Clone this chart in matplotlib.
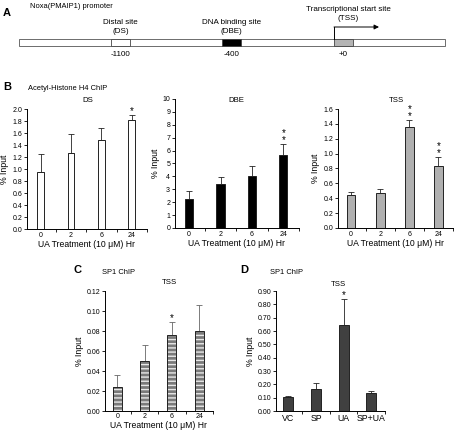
import matplotlib
matplotlib.use("Agg")
import matplotlib.pyplot as plt
from matplotlib.patches import Rectangle, FancyArrowPatch
import numpy as np

plt.rcParams['font.family'] = ['Liberation Sans', 'DejaVu Sans']

W, H = 455, 430

# ---------------- data ----------------
time_labels = ["0", "2", "6", "24"]
ds_vals = [0.95, 1.27, 1.49, 1.82]
ds_err = [0.30, 0.32, 0.20, 0.08]
ds_stars = [0, 0, 0, 1]

dbe_vals = [2.25, 3.40, 4.05, 5.65]
dbe_err = [0.60, 0.55, 0.75, 0.85]
dbe_stars = [0, 0, 0, 2]

tss_vals = [0.44, 0.47, 1.36, 0.84]
tss_err = [0.04, 0.06, 0.09, 0.11]
tss_stars = [0, 0, 2, 2]

sp1_time_vals = [0.024, 0.050, 0.076, 0.080]
sp1_time_err = [0.012, 0.016, 0.013, 0.026]
sp1_time_stars = [0, 0, 1, 0]

treat_labels = ["VC", "SP", "UA", "SP+UA"]
sp1_treat_vals = [0.102, 0.168, 0.645, 0.133]
sp1_treat_err = [0.010, 0.045, 0.195, 0.015]
sp1_treat_stars = [0, 0, 1, 0]

site_labels = ["Distal site\n(DS)", "DNA binding site\n(DBE)", "Transcriptional start site\n(TSS)"]
site_pos_labels = ["-1100", "-400", "+0"]

fig = plt.figure(figsize=(W / 100, H / 100), dpi=100)


def px_axes(left, top, right, bottom):
    return fig.add_axes([left / W, 1 - bottom / H, (right - left) / W, (bottom - top) / H])


def fig_text(x, y, s, **kw):
    fig.text(x / W, 1 - y / H, s, **kw)


# ---------------- Panel A ----------------
axA = px_axes(0, 0, W, 75)
axA.set_xlim(0, W)
axA.set_ylim(75, 0)
axA.axis('off')
axA.text(3, 13, "A", fontsize=8, fontweight='bold', va='center')
axA.text(30, 6, "Noxa(PMAIP1) promoter", fontsize=5.4, va='center')
axA.add_patch(Rectangle((19, 39), 426, 7, facecolor='white', edgecolor='#555555', lw=0.6))
site_x = [111, 222, 334]
site_w = 19
site_fc = ['white', 'black', '#b4b4b4']
for x, fc, lab, pl in zip(site_x, site_fc, site_labels, site_pos_labels):
    axA.add_patch(Rectangle((x, 39), site_w, 7, facecolor=fc, edgecolor='#444444', lw=0.6))
    if lab.startswith("Transcriptional"):
        axA.text(x + site_w / 2 + 5, 14, lab, fontsize=5.8, ha='center', va='center', linespacing=1.3)
    else:
        axA.text(x + site_w / 2, 27, lab, fontsize=5.8, ha='center', va='center', linespacing=1.3)
    axA.text(x + site_w / 2, 55, pl, fontsize=5.8, ha='center', va='center')
axA.plot([334, 334], [39, 27], color='black', lw=0.7)
axA.add_patch(FancyArrowPatch((334, 27), (379, 27), arrowstyle='-|>', mutation_scale=7,
                              color='black', lw=0.7, shrinkA=0, shrinkB=0))


# ---------------- helpers ----------------
def bar_panel(ax, labels, vals, errs, stars, ymax, ystep, fmt, fc, width, axh_px,
              xlabel=True, hatch=None):
    x = np.arange(len(labels))
    if hatch:
        ax.bar(x, vals, width=width, color='#7a7a7a', edgecolor='#e8e8e8', hatch=hatch, lw=0, zorder=2)
        ax.bar(x, vals, width=width, facecolor='none', edgecolor='#222222', lw=0.7, zorder=3)
    else:
        ax.bar(x, vals, width=width, color=fc, edgecolor='#222222', lw=0.7, zorder=2)
    ax.errorbar(x, vals, yerr=[np.zeros(len(vals)), errs], fmt='none',
                ecolor='#666666' if hatch else '#222222',
                elinewidth=0.6, capsize=2, capthick=0.6, zorder=1)
    unit = ymax / axh_px  # data units per pixel
    for xi, v, e, s in zip(x, vals, errs, stars):
        if s:
            ax.text(xi, v + e - 1 * unit, "\n".join(["*"] * s), ha='center', va='bottom',
                    fontsize=7, linespacing=0.6, clip_on=False)
    ax.set_xlim(-0.45, len(labels) - 0.55)
    ax.set_ylim(0, ymax)
    ticks = np.arange(0, ymax + ystep / 2, ystep)
    ax.set_yticks(ticks)
    ax.set_yticklabels([fmt.format(t) for t in ticks])
    ax.set_xticks(x)
    ax.set_xticklabels(labels)
    ax.set_xticks(np.arange(0.5, len(labels) - 0.4, 1.0), minor=True)
    ax.tick_params(axis='x', which='major', length=0, labelsize=5, pad=2)
    ax.tick_params(axis='x', which='minor', length=2.5, width=0.6, direction='out')
    ax.tick_params(axis='y', length=2, width=0.6, labelsize=5, pad=1.5)
    for sp in ['top', 'right']:
        ax.spines[sp].set_visible(False)
    for sp in ['left', 'bottom']:
        ax.spines[sp].set_linewidth(0.7)
    ax.set_ylabel("% Input", fontsize=6.3, labelpad=2)
    if xlabel:
        ax.set_xlabel("UA Treatment (10 \u03bcM) Hr", fontsize=6.2, labelpad=1)


# ---------------- Panel B ----------------
fig_text(3, 87, "B", fontsize=8, fontweight='bold', va='center')
fig_text(28, 88, "Acetyl-Histone H4 ChIP", fontsize=5.4, va='center')

axDS = px_axes(27, 109, 147, 229)
bar_panel(axDS, time_labels, ds_vals, ds_err, ds_stars, 2.0, 0.2, "{:.1f}", 'white', 0.22, 120)
fig_text(88, 101, "DS", fontsize=5.6, ha='center', va='center')

axDBE = px_axes(175, 99, 299, 228)
bar_panel(axDBE, time_labels, dbe_vals, dbe_err, dbe_stars, 10, 1, "{:.0f}", 'black', 0.26, 129)
fig_text(236, 101, "DBE", fontsize=5.6, ha='center', va='center')

axTSS = px_axes(338, 109, 453, 228)
bar_panel(axTSS, time_labels, tss_vals, tss_err, tss_stars, 1.6, 0.2, "{:.1f}", '#b0b0b0', 0.3, 119)
fig_text(396, 101, "TSS", fontsize=5.6, ha='center', va='center')

# ---------------- Panel C ----------------
fig_text(73, 270, "C", fontsize=8, fontweight='bold', va='center')
fig_text(102, 272, "SP1 ChIP", fontsize=5.4, va='center')
axC = px_axes(105, 291, 213, 411)
bar_panel(axC, time_labels, sp1_time_vals, sp1_time_err, sp1_time_stars, 0.12, 0.02, "{:.2f}", '#7a7a7a',
          0.33, 120, hatch='----')
axC.tick_params(axis='x', which='major', pad=1.5)
axC.xaxis.labelpad = 0.5
fig_text(169, 283, "TSS", fontsize=5.6, ha='center', va='center')

# ---------------- Panel D ----------------
fig_text(240, 270, "D", fontsize=8, fontweight='bold', va='center')
fig_text(270, 272, "SP1 ChIP", fontsize=5.4, va='center')
axD = px_axes(276, 291, 385, 411)
bar_panel(axD, treat_labels, sp1_treat_vals, sp1_treat_err, sp1_treat_stars, 0.9, 0.1, "{:.2f}", '#404040',
          0.36, 120, xlabel=False)
axD.tick_params(axis='x', which='major', labelsize=6.3, pad=2)
fig_text(338, 284, "TSS", fontsize=5.6, ha='center', va='center')

fig.savefig("out.png", dpi=100)
